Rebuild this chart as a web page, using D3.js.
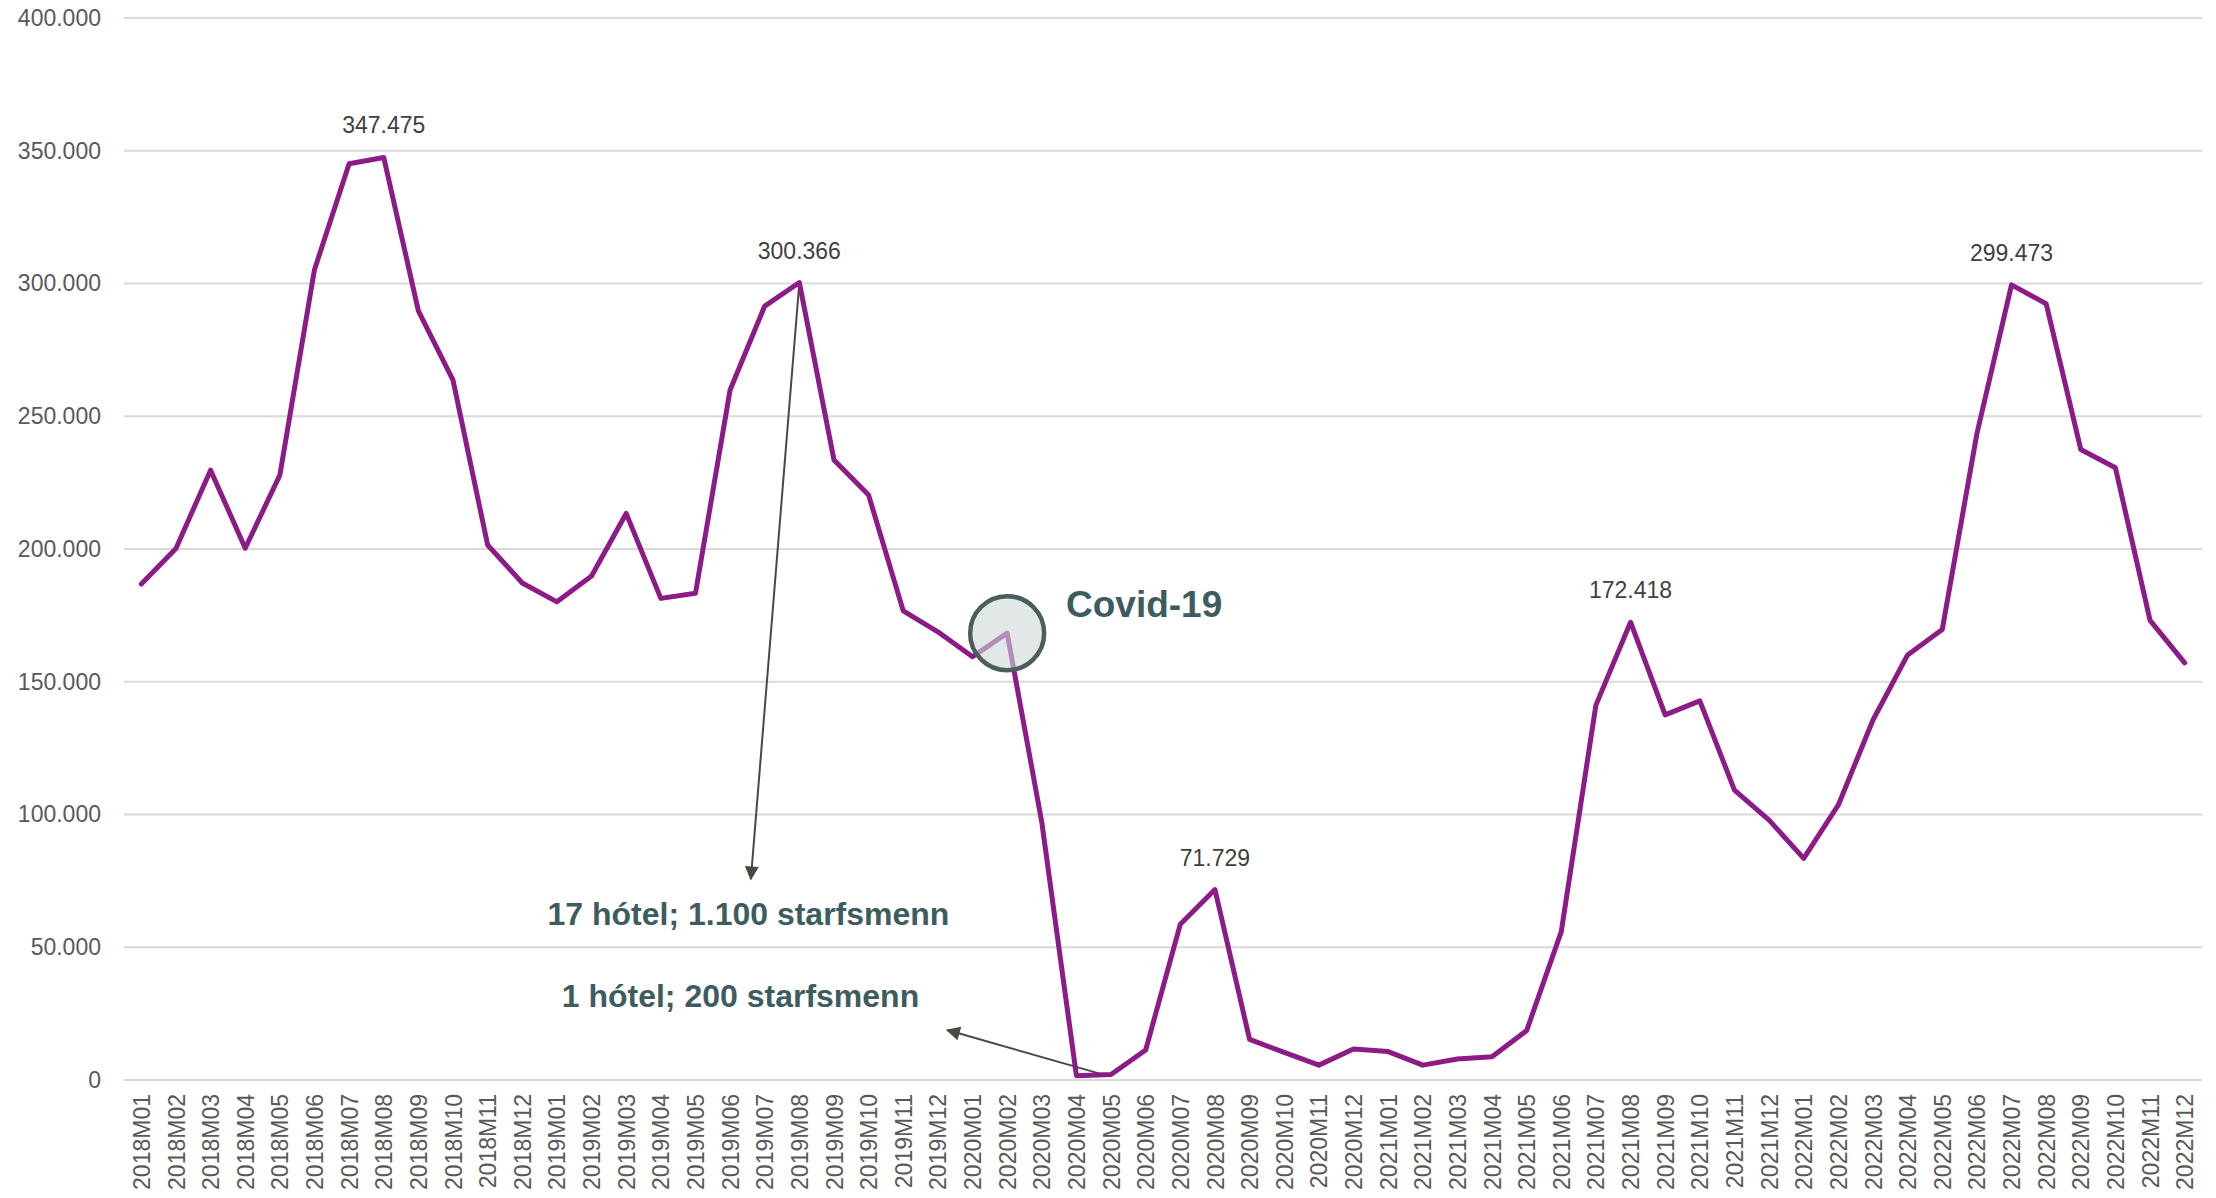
<!DOCTYPE html>
<html>
<head>
<meta charset="utf-8">
<script src="https://cdn.jsdelivr.net/npm/d3@7"></script>
<style>
  body { margin: 0; background: #fff; }
  text { font-family: "Liberation Sans", Arial, sans-serif; }
</style>
</head>
<body>
<svg id="chart" width="2216" height="1198"></svg>
<script>
// months 2018M01 .. 2022M12
var years = ["2018", "2019", "2020", "2021", "2022"];
var monthCodes = ["M01","M02","M03","M04","M05","M06","M07","M08","M09","M10","M11","M12"];
var months = [];
years.forEach(function(y) { monthCodes.forEach(function(m) { months.push(y + m); }); });

// hotel overnight stays
var values2018 = [186800, 200200, 229700, 200300, 227800, 305200, 345100, 347475, 289700, 263600, 201500, 187200];
var values2019 = [180100, 189800, 213400, 181400, 183300, 259900, 291500, 300366, 233500, 220300, 176700, 168800];
var values2020 = [159400, 168300, 97100, 1600, 2100, 11300, 58700, 71729, 15300, 10400, 5600, 11700];
var values2021 = [10700, 5600, 7900, 8800, 18600, 55900, 141200, 172418, 137500, 142800, 109200, 97900];
var values2022 = [83500, 103600, 135600, 160100, 169700, 243400, 299473, 292400, 237500, 230600, 173100, 157100];
var values = [].concat(values2018, values2019, values2020, values2021, values2022);

var yTicks = [0, 50000, 100000, 150000, 200000, 250000, 300000, 350000, 400000];
var labelledMonths = ["2018M08", "2019M08", "2020M08", "2021M08", "2022M07"];

var svg = d3.select("#chart");
var margin = {left: 124, right: 14, top: 18, bottom: 118};
var W = 2216, H = 1198;

var x = d3.scalePoint().domain(months).range([margin.left, W - margin.right]).padding(0.5);
var y = d3.scaleLinear().domain([0, 400000]).range([H - margin.bottom, margin.top]);
// fractional month position
function xi(i) { return x(months[0]) + i * x.step(); }

var loc = d3.formatLocale({decimal: ",", thousands: ".", grouping: [3], currency: ["", ""]});
var fmt = loc.format(",");

// gridlines
svg.append("g").selectAll("line").data(yTicks).join("line")
  .attr("x1", margin.left).attr("x2", W - margin.right)
  .attr("y1", function(d) { return y(d); }).attr("y2", function(d) { return y(d); })
  .attr("stroke", "#d9d9d9").attr("stroke-width", 2);

// y axis
var yAxis = svg.append("g").attr("transform", "translate(" + margin.left + ",0)")
  .call(d3.axisLeft(y).tickValues(yTicks).tickFormat(fmt).tickSize(0).tickPadding(23));
yAxis.select(".domain").remove();
yAxis.selectAll("text").attr("font-size", 23).attr("fill", "#595959")
  .style("font-family", "'Liberation Sans', Arial, sans-serif");

// x axis
var xAxis = svg.append("g").attr("transform", "translate(0," + y(0) + ")")
  .call(d3.axisBottom(x).tickSize(0));
xAxis.select(".domain").remove();
xAxis.selectAll("text")
  .attr("font-size", 23).attr("fill", "#595959")
  .style("font-family", "'Liberation Sans', Arial, sans-serif")
  .attr("text-anchor", "end")
  .attr("transform", "rotate(-90)")
  .attr("x", -14).attr("y", 0).attr("dy", "0.35em");

// arrows
var defs = svg.append("defs");
defs.append("marker").attr("id", "head")
  .attr("viewBox", "0 0 10 10").attr("refX", 9).attr("refY", 5)
  .attr("markerWidth", 18).attr("markerHeight", 14)
  .attr("markerUnits", "userSpaceOnUse").attr("orient", "auto")
  .append("path").attr("d", "M0,0 L10,5 L0,10 Z").attr("fill", "#4b4843");

var arrows = [
  {from: [19, 300366], to: [17.6, 75700]},
  {from: [27.7, 2300], to: [23.27, 18800]}
];
svg.append("g").selectAll("line").data(arrows).join("line")
  .attr("x1", function(d) { return xi(d.from[0]); })
  .attr("y1", function(d) { return y(d.from[1]); })
  .attr("x2", function(d) { return xi(d.to[0]); })
  .attr("y2", function(d) { return y(d.to[1]); })
  .attr("stroke", "#4b4843").attr("stroke-width", 2)
  .attr("marker-end", "url(#head)");

// line
var line = d3.line().x(function(d, i) { return x(months[i]); }).y(function(d) { return y(d); });
svg.append("path").datum(values)
  .attr("d", line).attr("fill", "none")
  .attr("stroke", "#8d1b87").attr("stroke-width", 5)
  .attr("stroke-linejoin", "round").attr("stroke-linecap", "round");

// data labels
svg.append("g").selectAll("text").data(labelledMonths).join("text")
  .attr("x", function(d) { return x(d); })
  .attr("y", function(d) { return y(values[months.indexOf(d)]) - 24; })
  .attr("text-anchor", "middle").attr("font-size", 23).attr("fill", "#404040")
  .text(function(d) { return fmt(values[months.indexOf(d)]); });

// covid circle
var covidIdx = months.indexOf("2020M02");
svg.append("circle")
  .attr("cx", x(months[covidIdx])).attr("cy", y(values[covidIdx]))
  .attr("r", 37)
  .attr("fill", "#cfd9d9").attr("fill-opacity", 0.6)
  .attr("stroke", "#4a5f5b").attr("stroke-width", 4.5);

// annotation texts
var notes = [
  {text: "Covid-19", i: 26.7, v: 174400, size: 37, anchor: "start"},
  {text: "17 hótel; 1.100 starfsmenn", i: 17.53, v: 58400, size: 32, anchor: "middle"},
  {text: "1 hótel; 200 starfsmenn", i: 17.3, v: 27500, size: 32, anchor: "middle"}
];
svg.append("g").selectAll("text").data(notes).join("text")
  .attr("x", function(d) { return xi(d.i); })
  .attr("y", function(d) { return y(d.v); })
  .attr("text-anchor", function(d) { return d.anchor; })
  .attr("font-size", function(d) { return d.size; })
  .attr("font-weight", "bold").attr("fill", "#3d5c60")
  .text(function(d) { return d.text; });
</script>
</body>
</html>
